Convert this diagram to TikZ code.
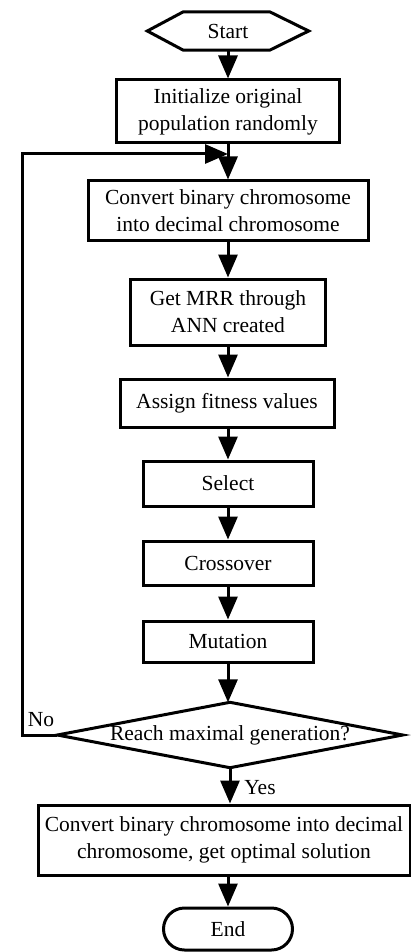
\documentclass[tikz,border=0pt]{standalone}
\usepackage{fontspec}
\setmainfont{Liberation Serif}
\usetikzlibrary{arrows.meta}
\begin{document}
\begin{tikzpicture}[x=1pt,y=-1pt,
  every node/.style={font=\fontsize{21.5}{27}\selectfont, inner sep=0pt, align=center},
  box/.style={draw, line width=3pt, rectangle},
  conn/.style={line width=3pt, -{Triangle[length=23pt,width=19pt]}},
  plain/.style={line width=3pt}]
\useasboundingbox (0,0) rectangle (411,952);
\node (start) [minimum width=161pt, minimum height=38pt] at (228,31) {Start};
\draw[plain, line join=miter] (start.west) -- ([xshift=36pt]start.north west) -- ([xshift=-39pt]start.north east) -- (start.east) -- ([xshift=-39pt]start.south east) -- ([xshift=36pt]start.south west) -- cycle;
\node (init) [box, minimum width=223pt, minimum height=63pt] at (228,111.5) {Initialize original\\population randomly};
\node (conv) [box, minimum width=280pt, minimum height=59pt] at (228,210.5) {Convert binary chromosome\\into decimal chromosome};
\node (mrr) [box, minimum width=195pt, minimum height=66pt] at (228,312) {Get MRR through\\ANN created};
\node (assign) [box, minimum width=214pt, minimum height=48pt] at (227,403) {Assign fitness values};
\node (sel) [box, minimum width=170pt, minimum height=45pt] at (228,483.5) {Select};
\node (cross) [box, minimum width=170pt, minimum height=44pt] at (228,563) {Crossover};
\node (mut) [box, minimum width=170pt, minimum height=41pt] at (228,641.5) {Mutation};
\node (dec) [minimum width=345pt, minimum height=65pt] at (230,735) {Reach maximal generation?};
\draw[plain, line join=miter] (dec.west) -- (dec.north) -- (dec.east) -- (dec.south) -- cycle;
\node (fin) [box, minimum width=372pt, minimum height=70pt] at (224,840) {Convert binary chromosome into decimal\\chromosome, get optimal solution};
\node (end) [draw, line width=3pt, rounded corners=21pt, minimum width=129pt, minimum height=42pt] at (228,929) {End};
\coordinate (lc) at (22,735);
\coordinate (lt) at (22,154);
\coordinate (lin) at (228,154);
\draw[conn] (start) -- (init);
\draw[conn] (init) -- (conv);
\draw[conn] (conv) -- (mrr);
\draw[conn] (mrr) -- (assign.north -| mrr.south);
\draw[conn] (assign.south -| sel.north) -- (sel);
\draw[conn] (sel) -- (cross);
\draw[conn] (cross) -- (mut);
\draw[conn] (mut.south) -- (mut.south |- dec.north);
\draw[conn] (dec.south) -- (dec.south |- fin.north);
\draw[conn] (fin.south -| end.north) -- (end);
\draw[conn, line join=miter] (dec.west) -- (lc) -- (lt) -- (lin);
\node (no) at (41,720) {No};
\node (yes) at (260,788) {Yes};
\end{tikzpicture}
\end{document}
